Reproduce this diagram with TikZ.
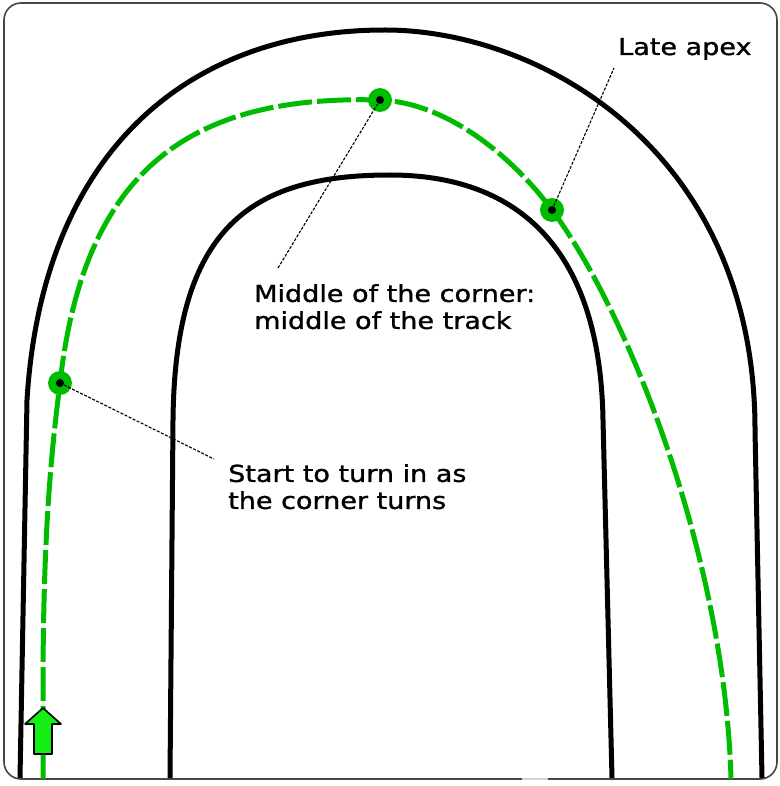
\documentclass[tikz,border=0pt]{standalone}
\usepackage{fontspec}
\newfontfamily\labelfont[FakeStretch=1.16,FakeBold=1.2]{DejaVu Sans}
\definecolor{trackgreen}{RGB}{0,188,0}
\definecolor{arrowgreen}{RGB}{20,240,20}
\definecolor{framegray}{RGB}{70,70,70}
\begin{document}
\begin{tikzpicture}[x=1pt,y=-1pt,
  framebox/.style={draw=framegray, line width=1.6pt, rounded corners=17pt},
  trackedge/.style={draw=black, line width=5pt, line join=round},
  racingline/.style={draw=trackgreen, line width=5pt, dash pattern=on 34pt off 5pt},
  apexdot/.style={circle, fill=trackgreen, minimum size=24pt, inner sep=0pt},
  leader/.style={draw=black, line width=1.1pt, dash pattern=on 3pt off 1.5pt},
  lbl/.style={font=\labelfont\fontsize{23.3}{27}\selectfont, inner sep=0pt, text=black},
  dirarrow/.style={draw=black, line width=1.6pt, fill=arrowgreen, line join=round}]
\useasboundingbox (0,0) rectangle (779,786);
\fill[white] (0,0) rectangle (779,786);
% frame
\draw[framebox] (4,3) rectangle (777,779);
\draw[gray!35, line width=1.8pt] (522,779) -- (548,779);
% outer edge of the track
\draw[trackedge] (20,778) -- (27,400)
  .. controls (42,155) and (185,30) .. (385,30)
  .. controls (540,30) and (755,150) .. (755,430)
  -- (762,778);
% inner edge of the track
\draw[trackedge] (170,778) -- (173,420)
  .. controls (175,228) and (250,175) .. (390,175)
  .. controls (510,175) and (600,240) .. (603,420)
  -- (612,778);
% racing line
\draw[racingline] (43,779) -- (43,690)
  .. controls (43,520) and (53,440) .. (60,383)
  .. controls (85,160) and (200,95) .. (380,100)
  .. controls (450,103) and (515,160) .. (552,210)
  .. controls (630,315) and (725,560) .. (731,779);
% direction arrow
\draw[dirarrow] (43,708) -- (61,724) -- (52,724) -- (52,754) -- (34,754)
  -- (34,724) -- (25,724) -- cycle;
% dots
\node[apexdot] (turnin) at (60,383) {};
\node[apexdot] (middle) at (380,100) {};
\node[apexdot] (apex) at (552,210) {};
\foreach \d in {turnin,middle,apex} \fill[black] (\d.center) circle (4pt);
% labels
\node[lbl, anchor=base west] (apexlbl) at (618,55) {Late apex};
\node[lbl, anchor=north west, align=left] (midlbl) at (254,284)
  {Middle of the corner:\\middle of the track};
\node[lbl, anchor=north west, align=left] (startlbl) at (228,464)
  {Start to turn in as\\the corner turns};
\coordinate (apexend) at (614,68);
\coordinate (midend) at (278,268);
\coordinate (startend) at (214,459);
% leader lines
\draw[leader] (apex.center) -- (apexend);
\draw[leader] (middle.center) -- (midend);
\draw[leader] (turnin.center) -- (startend);
\end{tikzpicture}
\end{document}
